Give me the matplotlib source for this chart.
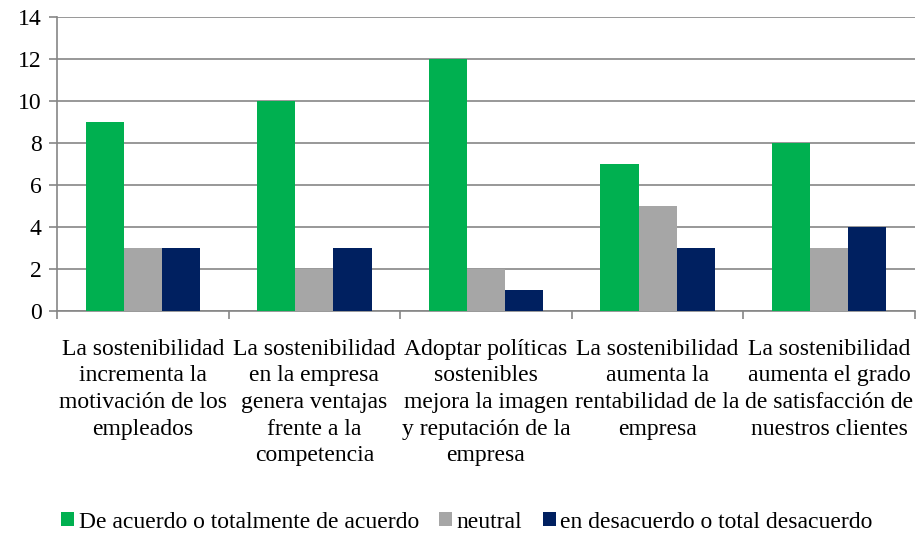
import matplotlib
matplotlib.use("Agg")
import matplotlib.pyplot as plt
import numpy as np

plt.rcParams['font.family'] = 'serif'
plt.rcParams['font.serif'] = ['Liberation Serif', 'Times New Roman', 'DejaVu Serif']

categorias = ["La sostenibilidad\nincrementa la\nmotivación de los\nempleados",
              "La sostenibilidad\nen la empresa\ngenera ventajas\nfrente a la\ncompetencia",
              "Adoptar políticas\nsostenibles\nmejora la imagen\ny reputación de la\nempresa",
              "La sostenibilidad\naumenta la\nrentabilidad de la\nempresa",
              "La sostenibilidad\naumenta el grado\nde satisfacción de\nnuestros clientes"]
acuerdo = [9, 10, 12, 7, 8]
neutral = [3, 2, 2, 5, 3]
desacuerdo = [3, 3, 1, 3, 4]
series = ["De acuerdo o totalmente de acuerdo", "neutral", "en desacuerdo o total desacuerdo"]
colores = ["#00B050", "#A6A6A6", "#002060"]

fig = plt.figure(figsize=(9.19, 5.35), dpi=100)
ax = fig.add_axes([0.062, 0.4187, 0.9336, 0.5495])

x = np.arange(len(categorias)) + 0.5
w = 0.222
for i, (vals, nom, c) in enumerate(zip([acuerdo, neutral, desacuerdo], series, colores)):
    ax.bar(x + (i - 1) * w, vals, w, color=c, label=nom, zorder=3)

ax.set_xlim(0, 5)
ax.set_ylim(0, 14)
ax.set_yticks(range(0, 15, 2))
ax.grid(axis='y', color='#868686', linewidth=1.2, zorder=0)
for s in ['top', 'right']:
    ax.spines[s].set_visible(False)
for s in ['left', 'bottom']:
    ax.spines[s].set_color('#868686')
    ax.spines[s].set_linewidth(1.2)
ax.set_xticks(range(0, 6))
ax.set_xticklabels([])
ax.set_xticks(x, minor=True)
ax.set_xticklabels(categorias, minor=True, fontsize=17)
for t in ax.get_xticklabels(minor=True):
    t.set_linespacing(1.35)
ax.tick_params(axis='x', which='minor', length=0, pad=20)
ax.tick_params(axis='x', which='major', length=6, color='#868686', width=1.2)
ax.tick_params(axis='y', length=6, color='#868686', width=1.2, labelsize=17, pad=5)

fig.legend(loc='center', bbox_to_anchor=(0.508, 0.024), ncol=3, frameon=False,
           fontsize=17, handlelength=0.55, handleheight=0.55, handletextpad=0.2,
           columnspacing=0.85)

fig.savefig("out.png", dpi=100)
